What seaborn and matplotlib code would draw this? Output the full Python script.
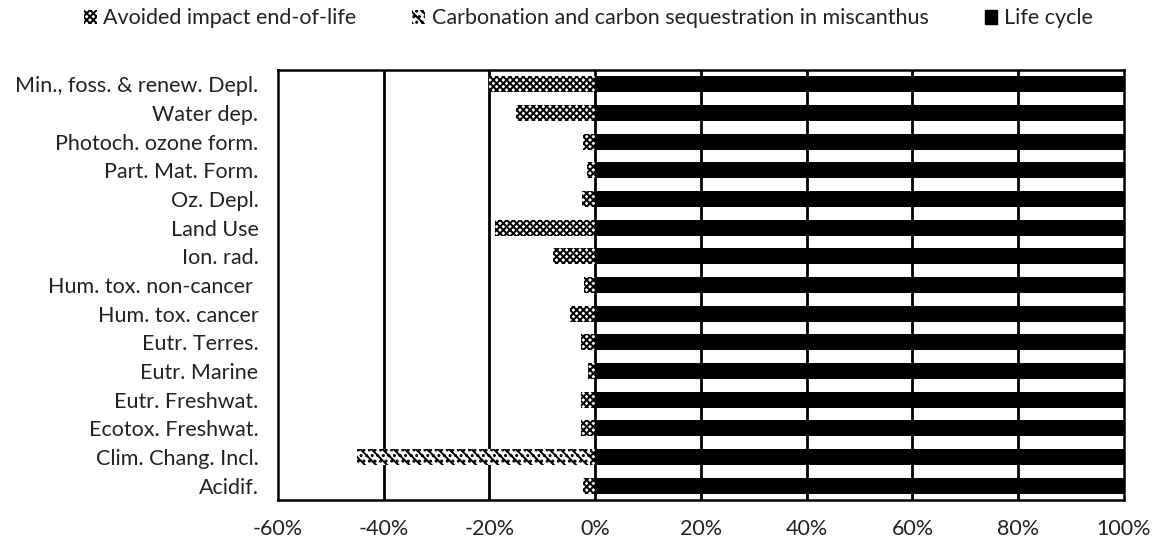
import matplotlib
matplotlib.use("Agg")
import matplotlib.pyplot as plt
import seaborn as sns
import pandas as pd
from matplotlib.patches import Patch
from matplotlib.ticker import FuncFormatter

categories = ["Min., foss. & renew. Depl.", "Water dep.", "Photoch. ozone form.",
              "Part. Mat. Form.", "Oz. Depl.", "Land Use", "Ion. rad.",
              "Hum. tox. non-cancer ", "Hum. tox. cancer", "Eutr. Terres.",
              "Eutr. Marine", "Eutr. Freshwat.", "Ecotox. Freshwat.",
              "Clim. Chang. Incl.", "Acidif."]
avoided = [-20, -15, -2.3, -1.5, -2.5, -19, -8, -2.2, -4.7, -2.6, -1.3, -2.6, -2.6, -1.0, -2.3]
carbonation = [0, 0, 0, 0, 0, 0, 0, 0, 0, 0, 0, 0, 0, -44, 0]
life_cycle = [100] * 15
xticks = [-60, -40, -20, 0, 20, 40, 60, 80, 100]

sns.set_theme(style="white")
plt.rcParams['font.family'] = ['Lato', 'DejaVu Sans']
plt.rcParams['hatch.linewidth'] = 1.4
plt.rcParams['hatch.color'] = 'black'

df = pd.DataFrame({"cat": categories, "avoided": avoided,
                   "carb_total": [a + c for a, c in zip(avoided, carbonation)],
                   "life": life_cycle})

fig = plt.figure(figsize=(11.58, 5.47), dpi=100)
ax = fig.add_axes([0.240, 0.086, 0.7306, 0.786])

for x in xticks[1:-1]:
    ax.axvline(x, color='black', lw=2, zorder=0)

w = 0.56
carb_hatch = "\\\\\\..."
av_hatch = "xxxxx"
sns.barplot(data=df, x="carb_total", y="cat", orient="h", color="white",
            edgecolor="black", linewidth=0, hatch=carb_hatch, width=w, ax=ax, zorder=2)
sns.barplot(data=df, x="avoided", y="cat", orient="h", color="white",
            edgecolor="black", linewidth=0, hatch=av_hatch, width=w, ax=ax, zorder=3)
sns.barplot(data=df, x="life", y="cat", orient="h", color="black",
            edgecolor="black", linewidth=0, width=w, ax=ax, zorder=3)

ax.set_xlim(-60, 100)
ax.set_xticks(xticks)
ax.xaxis.set_major_formatter(FuncFormatter(lambda v, p: f"{int(v)}%"))
ax.set_xlabel("")
ax.set_ylabel("")
ax.tick_params(axis='x', length=0, pad=14, labelsize=15.5, colors='#222222')
ax.tick_params(axis='y', length=0, pad=14, labelsize=15.5, colors='#222222')
for s in ax.spines.values():
    s.set_color('black')
    s.set_linewidth(1.8)
    s.set_visible(True)

handles = [Patch(facecolor='white', edgecolor='black', hatch=av_hatch, lw=0),
           Patch(facecolor='white', edgecolor='black', hatch=carb_hatch, lw=0),
           Patch(facecolor='black', edgecolor='black')]
labels = ["Avoided impact end-of-life", "Carbonation and carbon sequestration in miscanthus", "Life cycle"]
fig.legend(handles, labels, loc='upper center', bbox_to_anchor=(0.508, 1.02), ncol=3,
           frameon=False, fontsize=15.5, handlelength=0.6, handleheight=0.6,
           handletextpad=0.3, columnspacing=2.6, labelcolor='#222222')

fig.savefig("out.png", dpi=100)
